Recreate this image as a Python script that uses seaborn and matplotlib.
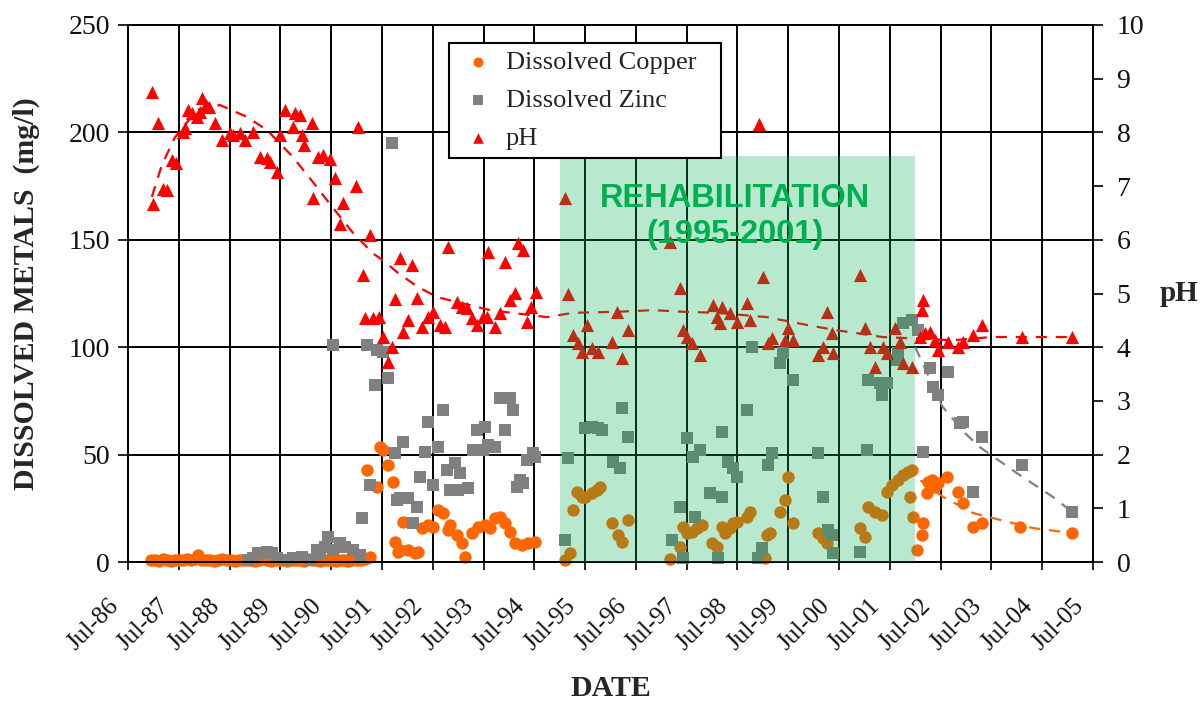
import matplotlib
matplotlib.use('Agg')
import matplotlib.pyplot as plt
import matplotlib.transforms as mtransforms
from matplotlib.patches import Rectangle
import seaborn as sns

# ---- data (x in decimal years, Jul-86 = 1986.5) ----

# dissolved copper (mg/l)
copper_year = [
    1986.95, 1987.03, 1987.11, 1987.19, 1987.27, 1987.35, 1987.43, 1987.51, 1987.59, 1987.67,
    1987.75, 1987.82, 1987.88, 1987.96, 1988.04, 1988.12, 1988.20, 1988.28, 1988.36, 1988.44,
    1988.52, 1988.60, 1988.68, 1988.76, 1988.84, 1988.92, 1989.00, 1989.08, 1989.16, 1989.24,
    1989.32, 1989.40, 1989.48, 1989.56, 1989.64, 1989.72, 1989.80, 1989.88, 1989.96, 1990.04,
    1990.12, 1990.20, 1990.28, 1990.36, 1990.44, 1990.52, 1990.60, 1990.68, 1990.76, 1990.84,
    1990.92, 1991.00, 1991.08, 1991.16, 1991.26,
    1991.21, 1991.40, 1991.46, 1991.52, 1991.62, 1991.72, 1991.76, 1991.82, 1991.86, 1991.91,
    1992.01, 1992.15, 1992.21, 1992.29, 1992.41, 1992.51, 1992.60, 1992.70, 1992.80, 1992.84,
    1992.98, 1993.08, 1993.14, 1993.27, 1993.39, 1993.53, 1993.63, 1993.73, 1993.82, 1993.92,
    1994.02, 1994.12, 1994.26, 1994.38, 1994.51,
    1995.10, 1995.20, 1995.26, 1995.34, 1995.44, 1995.50, 1995.64, 1995.73, 1995.79, 1996.03,
    1996.15, 1996.23, 1996.35, 1997.17, 1997.37, 1997.43, 1997.51, 1997.61, 1997.70, 1997.80,
    1998.00, 1998.10, 1998.20, 1998.26, 1998.35, 1998.41, 1998.49, 1998.69, 1998.75, 1999.04,
    1999.08, 1999.14, 1999.34, 1999.44, 1999.50, 1999.59, 2000.09, 2000.18, 2000.26, 2000.91,
    2001.01, 2001.07, 2001.21, 2001.35, 2001.44, 2001.54, 2001.66, 2001.76, 2001.86, 2001.94,
    2001.90, 2001.95,
    2002.04, 2002.13, 2002.15, 2002.23, 2002.25, 2002.33, 2002.39, 2002.45, 2002.63, 2002.84,
    2002.94, 2003.14, 2003.32, 2004.06, 2005.09]
copper_mgl = [
    0.8, 1.0, 0.6, 1.2, 0.9, 0.7, 1.1, 0.8, 1.0, 1.3,
    0.9, 1.2, 3.3, 1.0, 0.8, 1.1, 0.7, 0.9, 1.2, 0.8,
    1.0, 0.6, 0.9, 1.1, 0.8, 1.0, 0.7, 0.9, 1.2, 0.8,
    0.6, 1.0, 0.9, 1.1, 0.7, 0.8, 1.0, 0.9, 0.6, 1.2,
    0.8, 1.0, 0.7, 0.9, 1.1, 0.8, 0.6, 1.0, 0.9, 0.7,
    1.1, 0.8, 1.0, 1.2, 2.3,
    42.8, 34.9, 53.5, 52.1, 45.2, 37.2, 9.3, 4.7, 5.6, 18.6,
    5.6, 4.2, 4.7, 15.8, 17.2, 16.3, 24.2, 22.8, 14.9, 17.2,
    12.6, 8.8, 2.3, 13.5, 16.3, 17.2, 15.8, 20.5, 21.0, 18.2,
    14.0, 8.8, 7.9, 8.8, 9.3,
    0.9, 4.2, 24.2, 32.6, 30.3, 30.3, 32.1, 33.5, 34.9, 18.2,
    12.6, 9.3, 19.6, 1.4, 7.0, 16.3, 13.5, 14.0, 15.8, 17.2,
    8.8, 7.0, 16.3, 13.5, 15.8, 18.2, 18.6, 21.0, 23.3, 1.9,
    12.6, 13.5, 23.3, 28.9, 39.6, 18.2, 13.5, 11.2, 8.8, 15.8,
    11.6, 25.6, 23.3, 21.9, 32.6, 35.8, 38.2, 40.5, 41.9, 42.8,
    30.3, 21.0,
    5.6, 12.6, 18.2, 32.1, 37.2, 38.2, 34.9, 36.8, 39.6, 32.6,
    27.5, 16.3, 18.2, 16.3, 13.5]

# dissolved zinc (mg/l)
zinc_year = [
    1988.86, 1988.96, 1989.06, 1989.24, 1989.34, 1989.43, 1989.63, 1989.75, 1989.93, 1990.08,
    1990.22, 1990.28, 1990.38, 1990.44, 1990.54, 1990.67, 1990.77, 1990.93, 1991.07,
    1991.11, 1991.27, 1991.37, 1991.62, 1991.21, 1991.40, 1991.52, 1990.54, 1991.70, 1991.76,
    1991.80, 1991.86, 1992.01, 1992.19, 1992.11, 1991.91, 1992.25, 1992.35, 1992.41, 1992.51,
    1992.60, 1992.70, 1992.78, 1992.84, 1992.94, 1992.99, 1993.03, 1993.19, 1993.29, 1993.37,
    1993.49, 1993.53, 1993.59, 1993.73, 1993.83, 1993.92, 1994.02, 1994.08, 1994.16, 1994.22,
    1994.28, 1994.36, 1994.47, 1994.51,
    1995.10, 1995.16, 1995.50, 1995.64, 1995.75, 1995.83, 1996.05, 1996.19, 1996.23, 1996.34,
    1997.21, 1997.37, 1997.43, 1997.51, 1997.62, 1997.76, 1997.66, 1997.96, 1998.12, 1998.20,
    1998.20, 1998.31, 1998.41, 1998.49, 1998.69, 1998.79, 1998.90, 1998.98, 1999.10, 1999.18,
    1999.34, 1999.40, 1999.59, 2000.09, 2000.18, 2000.28, 2000.36, 2000.38, 2000.91, 2001.05,
    2001.07, 2001.31, 2001.45, 2001.35, 2001.64, 2001.66, 2001.76, 2001.94,
    2002.06, 2002.15, 2002.29, 2002.65, 2002.35, 2002.45, 2002.88, 2002.94, 2003.32, 2003.14,
    2004.10, 2005.09]
zinc_mgl = [
    0.9, 1.9, 4.2, 4.7, 4.2, 1.9, 0.9, 1.9, 2.3, 0.9,
    5.6, 4.2, 7.0, 11.6, 5.6, 8.8, 7.0, 5.6, 3.3,
    20.5, 35.8, 82.4, 85.7, 101.0, 98.7, 97.8, 101.0, 195.0, 50.7,
    28.9, 29.8, 29.8, 25.6, 18.2, 55.9, 39.6, 51.2, 65.2, 35.8,
    53.5, 70.8, 42.8, 33.5, 46.1, 33.5, 41.4, 34.4, 52.1, 61.5,
    52.1, 62.8, 54.5, 53.5, 76.3, 61.5, 76.3, 70.8, 34.9, 38.2,
    36.8, 47.5, 50.7, 48.9,
    10.2, 48.4, 62.4, 62.8, 62.4, 61.5, 46.6, 43.8, 71.7, 58.2,
    10.2, 25.6, 1.9, 57.7, 48.9, 52.1, 21.0, 32.1, 1.9, 30.3,
    60.5, 46.6, 43.8, 39.6, 70.8, 100.0, 1.9, 6.5, 45.2, 50.7,
    92.6, 97.3, 84.7, 50.7, 30.3, 14.9, 12.6, 4.2, 4.7, 52.1,
    84.7, 83.3, 83.3, 77.7, 94.0, 97.3, 111.3, 112.7,
    108.0, 51.2, 90.3, 88.4, 81.5, 77.7, 64.7, 65.2, 58.2, 32.6,
    45.2, 23.3]

# pH
ph_year = [
    1986.97, 1986.99, 1987.09, 1987.19, 1987.27, 1987.37, 1987.45, 1987.58, 1987.62, 1987.68,
    1987.76, 1987.86, 1987.92, 1987.96, 1988.04, 1988.09, 1988.21, 1988.35, 1988.51, 1988.57,
    1988.71, 1988.80, 1988.96, 1989.10, 1989.24, 1989.30, 1989.43, 1989.49, 1989.59, 1989.75,
    1989.79, 1989.89, 1989.93, 1989.97, 1990.12, 1990.14, 1990.24, 1990.34, 1990.48, 1990.58,
    1990.67, 1990.73, 1990.99, 1991.03, 1991.13, 1991.27, 1991.86, 1992.09, 1991.76, 1992.19,
    1991.17, 1991.32, 1991.44, 1991.52, 1991.70, 1991.62, 1992.01, 1991.91, 1992.29, 1992.41,
    1992.51, 1992.64, 1992.74, 1992.80, 1992.98, 1993.08, 1993.17, 1993.27, 1993.37, 1993.49,
    1993.57, 1993.59, 1993.73, 1993.82, 1993.92, 1994.02, 1994.12, 1994.18, 1994.28, 1994.36,
    1994.44, 1994.53, 1995.10, 1995.16, 1995.26, 1995.36, 1995.44, 1995.54, 1995.64, 1995.75,
    1996.03, 1996.13, 1996.23, 1996.34, 1997.17, 1997.37, 1997.43, 1997.51, 1997.61, 1997.76,
    1998.02, 1998.10, 1998.16, 1998.20, 1998.35, 1998.49, 1998.69, 1998.75, 1998.92, 1999.00,
    1999.10, 1999.18, 1999.44, 1999.50, 1999.59, 2000.09, 2000.18, 2000.26, 2000.36, 2000.38,
    2000.91, 2001.01, 2001.11, 2001.21, 2001.37, 2001.44, 2001.60, 2001.70, 2001.76, 2001.94,
    2002.13, 2002.15, 2002.09, 2002.19, 2002.29, 2002.39, 2002.45, 2002.65, 2002.84, 2002.94,
    2003.14, 2003.32, 2004.10, 2005.09]
ph_value = [
    8.75, 6.67, 8.17, 6.95, 6.93, 7.49, 7.43, 8.01, 8.08, 8.42,
    8.36, 8.29, 8.38, 8.64, 8.51, 8.47, 8.17, 7.86, 7.99, 7.95,
    7.99, 7.86, 8.01, 7.54, 7.52, 7.45, 7.26, 7.95, 8.42, 8.10,
    8.36, 8.32, 7.95, 7.76, 8.17, 6.78, 7.54, 7.58, 7.50, 7.15,
    6.29, 6.68, 7.00, 8.10, 5.34, 6.09, 5.66, 5.53, 4.90, 4.92,
    4.54, 4.54, 4.56, 4.19, 4.00, 3.72, 4.51, 4.28, 4.38, 4.56,
    4.66, 4.41, 4.38, 5.87, 4.84, 4.75, 4.73, 4.54, 4.41, 4.56,
    4.56, 5.77, 4.38, 4.64, 5.59, 4.88, 5.01, 5.94, 5.81, 4.47,
    4.75, 5.03, 6.78, 4.99, 4.23, 4.08, 3.91, 4.41, 3.98, 3.91,
    4.10, 4.66, 3.80, 4.32, 5.96, 5.10, 4.32, 4.19, 4.08, 3.85,
    4.79, 4.56, 4.45, 4.75, 4.64, 4.47, 4.82, 4.51, 8.16, 5.31,
    4.08, 4.17, 4.13, 4.36, 4.13, 3.85, 4.00, 4.66, 4.26, 3.89,
    5.34, 4.36, 4.00, 3.63, 4.00, 3.89, 4.36, 4.10, 3.71, 3.63,
    4.69, 4.88, 4.19, 4.26, 4.28, 4.13, 3.95, 4.10, 4.00, 4.10,
    4.23, 4.41, 4.19, 4.19]

# dashed trend lines
ph_trend_year = [1986.97, 1987.17, 1987.42, 1987.86, 1988.31, 1988.84, 1989.24, 1989.75, 1990.22,
                 1990.54, 1990.93, 1991.32, 1991.56, 1991.82, 1992.21, 1992.60, 1993.63, 1994.75,
                 1995.26, 1996.13, 1996.84, 1997.43, 1998.10, 1999.08, 1999.89, 2000.42, 2000.87,
                 2001.35, 2001.80, 2002.73, 2003.51, 2004.50, 2005.09]
ph_trend = [6.80, 7.40, 7.90, 8.42, 8.51, 8.29, 8.04, 7.54, 6.98,
            6.59, 6.13, 5.75, 5.59, 5.38, 5.12, 4.93, 4.69, 4.56,
            4.64, 4.66, 4.69, 4.66, 4.64, 4.56, 4.41, 4.32, 4.26,
            4.19, 4.17, 4.13, 4.19, 4.19, 4.19]
copper_trend_year = [2001.75, 2002.04, 2002.55, 2003.14, 2003.67, 2004.32, 2004.91, 2005.09]
copper_trend = [42.0, 39.1, 30.3, 22.8, 19.6, 15.8, 14.0, 13.5]
zinc_trend_year = [2002.0, 2002.54, 2002.98, 2003.27, 2004.0, 2004.71, 2005.09]
zinc_trend = [100.0, 72.2, 60.0, 53.5, 41.4, 30.3, 23.3]

# rehabilitation period (box height in pH units)
rehab_start, rehab_end, rehab_top = 1995.0, 2002.0, 7.56

tick_years = [1986.5 + i for i in range(20)]
tick_labels = ['Jul-86', 'Jul-87', 'Jul-88', 'Jul-89', 'Jul-90', 'Jul-91', 'Jul-92',
               'Jul-93', 'Jul-94', 'Jul-95', 'Jul-96', 'Jul-97', 'Jul-98', 'Jul-99',
               'Jul-00', 'Jul-01', 'Jul-02', 'Jul-03', 'Jul-04', 'Jul-05']

# ---- plot ----
sns.set_style('white')
plt.rcParams['font.family'] = ['Liberation Serif', 'DejaVu Serif']

fig, ax1 = plt.subplots(figsize=(12.04, 7.02), dpi=100)
fig.subplots_adjust(left=0.1063, right=0.9078, bottom=0.1994, top=0.9644)
ax2 = ax1.twinx()

sns.scatterplot(x=copper_year, y=copper_mgl, ax=ax1, marker='o', color='#FF6600', s=80,
                linewidth=0, clip_on=False, label='Dissolved Copper', zorder=3)
sns.scatterplot(x=zinc_year, y=zinc_mgl, ax=ax1, marker='s', color='#808080', s=66,
                linewidth=0, clip_on=False, label='Dissolved Zinc', zorder=3)
sns.lineplot(x=copper_trend_year, y=copper_trend, ax=ax1, color='#FF6600', linewidth=1.6,
             linestyle=(0, (5, 4)), sort=False, estimator=None, zorder=2)
sns.lineplot(x=zinc_trend_year, y=zinc_trend, ax=ax1, color='#808080', linewidth=1.6,
             linestyle=(0, (5, 4)), sort=False, estimator=None, zorder=2)

sns.scatterplot(x=ph_year, y=ph_value, ax=ax2, marker='^', color='#FF0000', s=90,
                linewidth=0, label='pH', zorder=2)
sns.lineplot(x=ph_trend_year, y=ph_trend, ax=ax2, color='#FF0000', linewidth=1.6,
             linestyle=(0, (5, 4)), sort=False, estimator=None, zorder=2)

# green rehabilitation overlay (sits on top of the markers, like the original)
ax2.add_patch(Rectangle((rehab_start, 0), rehab_end - rehab_start, rehab_top,
                        facecolor='#00B050', alpha=0.28, edgecolor='none', zorder=3))
ax2.text((rehab_start + rehab_end) / 2 - 0.05, 6.44, 'REHABILITATION\n(1995-2001)',
         ha='center', va='center', color='#00B050', fontsize=23.5, fontweight='bold',
         family=['Liberation Sans', 'DejaVu Sans'], linespacing=1.2, zorder=6)

# axes, grid, ticks
ax1.set_xlim(1986.5, 2005.5)
ax1.set_ylim(0, 250)
ax2.set_ylim(0, 10)
ax1.set_yticks(range(0, 251, 50))
ax2.set_yticks(range(0, 11))
ax1.set_xticks(tick_years)
ax1.set_xticklabels(tick_labels, rotation=45, ha='right', va='center', rotation_mode='anchor')

ax1.grid(True, color='black', linewidth=1.4)
ax1.set_axisbelow(True)
for ax in (ax1, ax2):
    for sp in ax.spines.values():
        sp.set_color('black')
        sp.set_linewidth(1.4)

ax1.tick_params(axis='y', left=True, direction='out', length=7, width=1.4, pad=6,
                labelsize=20, labelcolor='#111111')
ax1.tick_params(axis='x', bottom=True, direction='out', length=6, width=1.4, pad=23,
                labelsize=18, labelcolor='#111111')
ax2.tick_params(axis='y', right=True, direction='out', length=7, width=1.4, pad=10,
                labelsize=20, labelcolor='#111111')

shift = mtransforms.ScaledTranslation(-0.13, 0, fig.dpi_scale_trans)
for lab in ax1.get_xticklabels():
    lab.set_transform(lab.get_transform() + shift)

ax1.set_xlabel('DATE', fontsize=21.5, fontweight='bold', va='center')
ax1.xaxis.set_label_coords(0.5, -0.235)
ax1.set_ylabel('DISSOLVED METALS  (mg/l)', fontsize=21.5, fontweight='bold', va='center')
ax1.yaxis.set_label_coords(-0.105, 0.5)
ax2.set_ylabel('pH', fontsize=21, fontweight='bold', rotation=0, ha='left', va='center')
ax2.yaxis.set_label_coords(1.069, 0.5)

# combined legend
if ax1.get_legend() is not None:
    ax1.get_legend().remove()
h1, l1 = ax1.get_legend_handles_labels()
h2, l2 = ax2.get_legend_handles_labels()
leg = ax2.legend(h1 + h2, l1 + l2, loc='upper left', bbox_to_anchor=(0.3326, 0.756, 0.2819, 0.2105),
                 mode='expand', borderaxespad=0, fontsize=19, frameon=True, fancybox=False,
                 edgecolor='black', framealpha=1, borderpad=0.3, labelspacing=0.55,
                 handlelength=1.6, handletextpad=0.25, markerscale=0.8)
leg.get_frame().set_linewidth(1.5)
leg.set_zorder(7)

plt.savefig('out.png', dpi=100)
